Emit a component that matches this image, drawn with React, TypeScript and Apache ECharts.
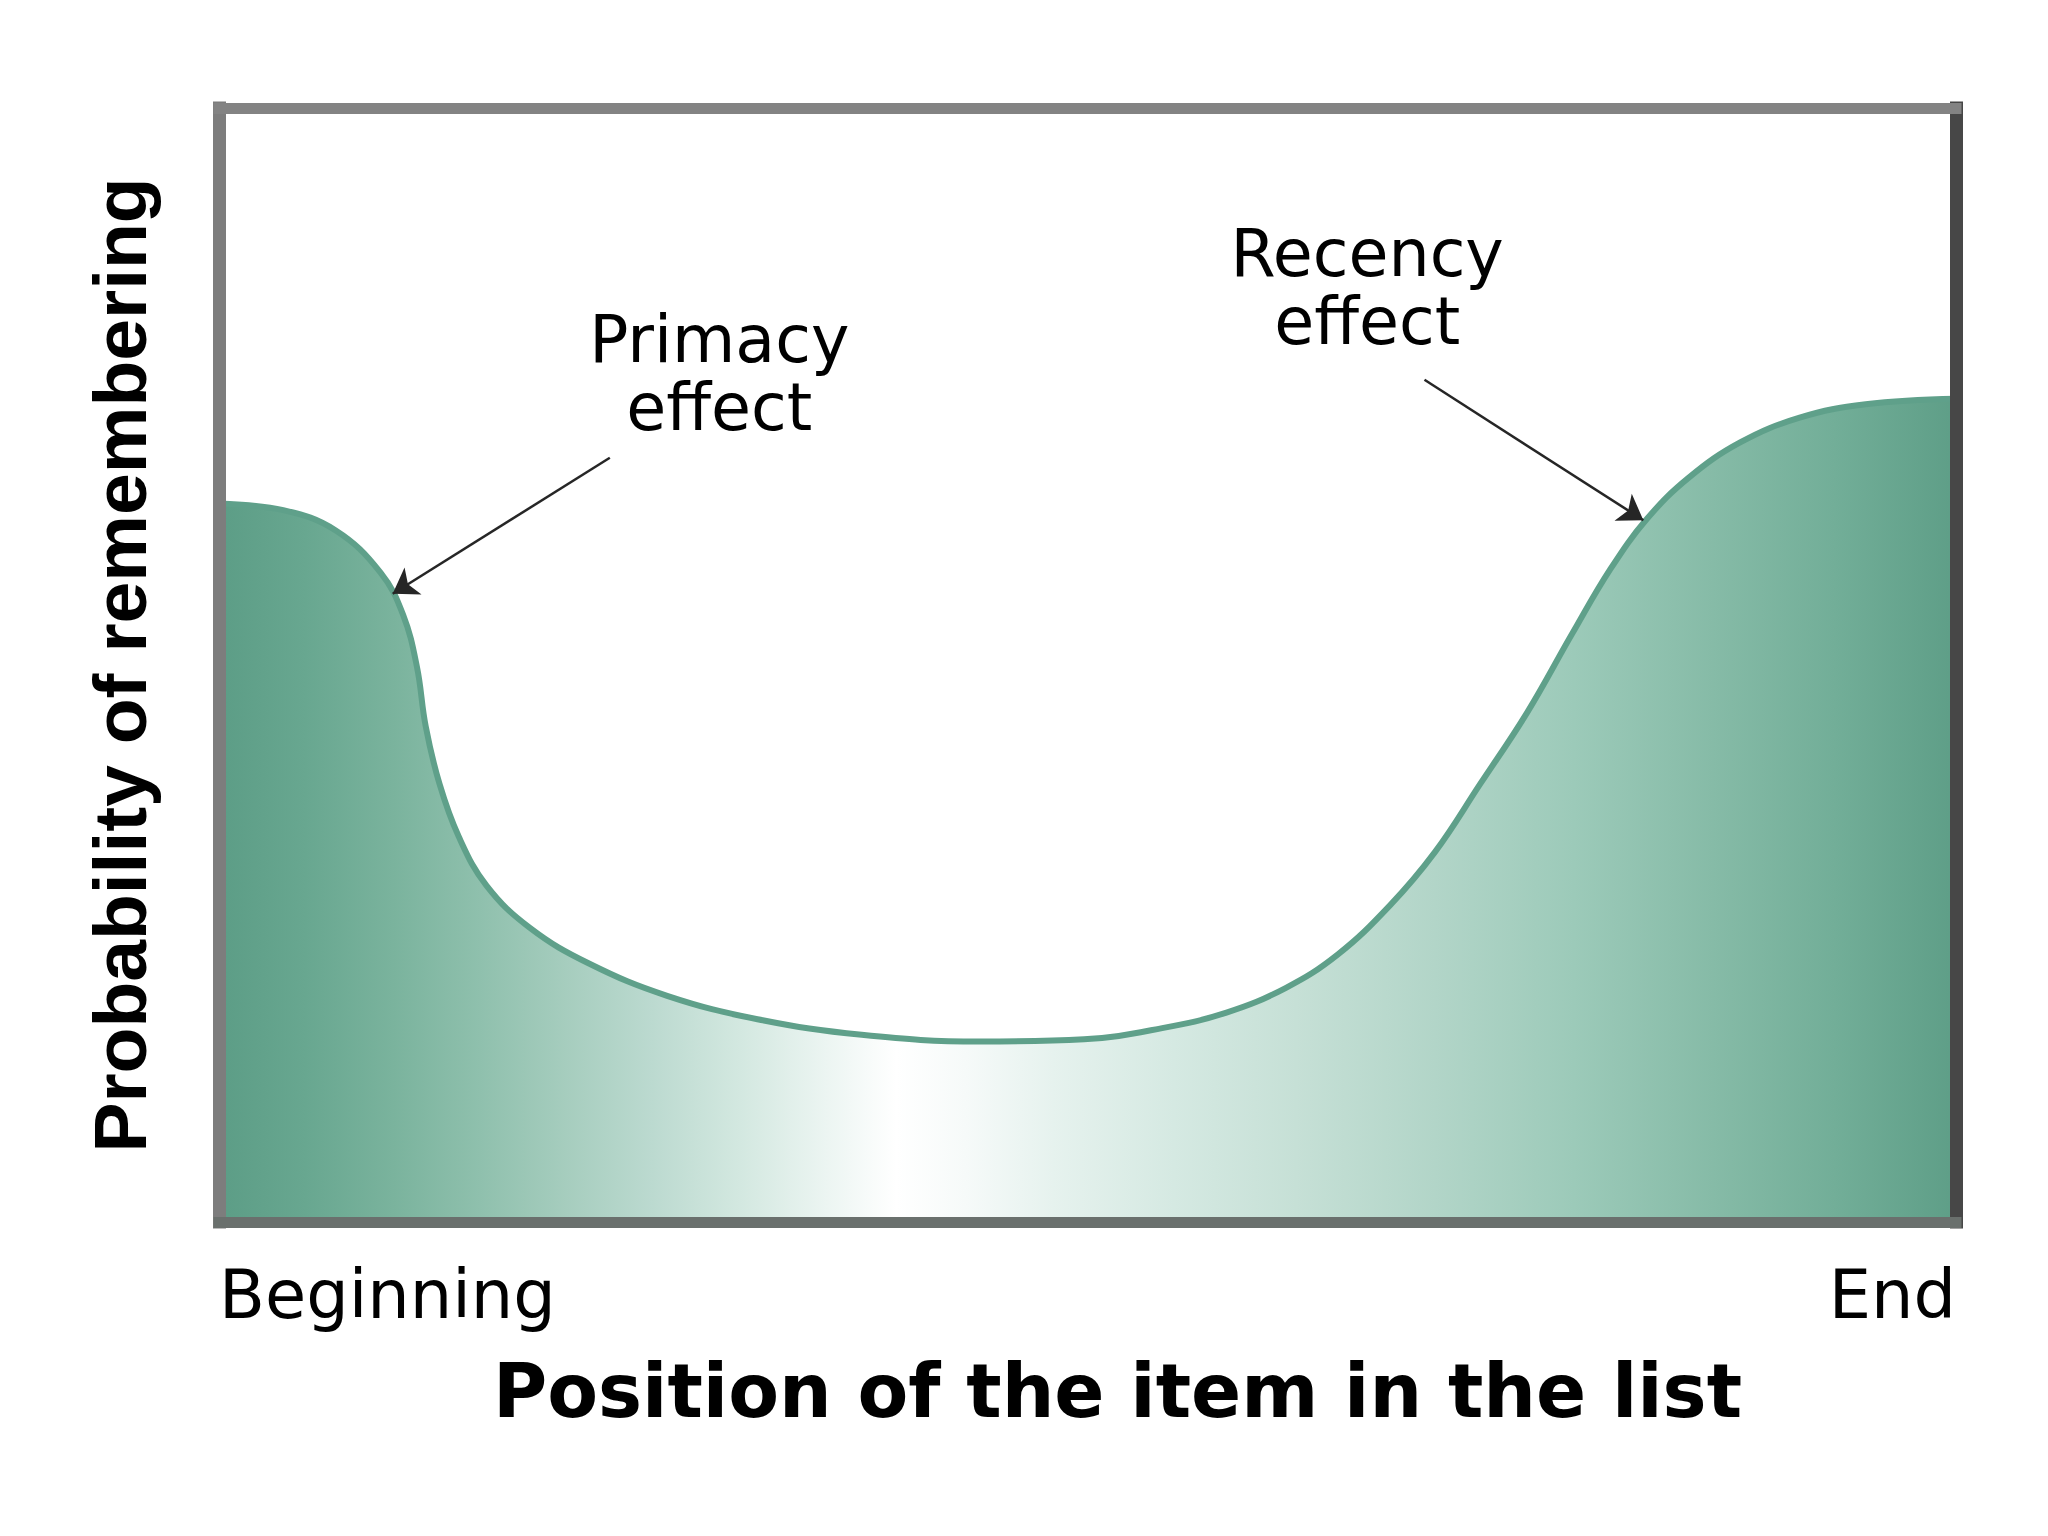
import React, { useEffect, useRef } from "react";
import * as echarts from "echarts";

// Position in the list (0 = beginning, 100 = end)
const positionX = [0, 3.7, 6.7, 9.3, 10.6, 11.4, 11.9, 12.7, 13.8, 15.4, 17.9, 21.3, 25.8, 31.0, 37.0, 43.8, 49.8, 54.3, 58.0, 61.4, 64.4, 67.4, 70.0, 72.6, 75.3, 77.9, 80.1, 82.2, 84.6, 87.6, 91.0, 94.8, 100];
// Probability of remembering (relative, 0..100)
const recallY = [64.5, 63.9, 62.1, 58.3, 54.5, 49.8, 44.5, 39.3, 34.6, 30.2, 26.4, 23.2, 20.3, 18.2, 16.8, 16.2, 16.4, 17.4, 18.8, 21.0, 24.0, 28.4, 33.2, 39.3, 45.7, 52.8, 58.6, 63.1, 66.8, 70.0, 72.2, 73.4, 73.9];

const axisEndLabels = ["Beginning", "End"];
const xTitle = "Position of the item in the list";
const yTitle = "Probability of remembering";

const annotationLines = ["Primacy", "effect", "Recency", "effect"];
const annotationAt = [
  [28.8, 79.2],
  [28.8, 73.1],
  [66.1, 86.9],
  [66.1, 80.8],
];
const arrowFrom = [
  [22.5, 68.6],
  [69.4, 75.6],
];
const arrowTo = [
  [10.0, 56.4],
  [82.0, 63.0],
];

export default function App() {
  const ref = useRef<HTMLDivElement>(null);
  useEffect(() => {
    if (!ref.current) return;
    const chart = echarts.init(ref.current, undefined, { renderer: "svg" });
    const data = positionX.map((x, i) => [x, recallY[i]]);
    const gradient = new echarts.graphic.LinearGradient(0, 0, 1, 0, [
      { offset: 0, color: "#5c9d86" },
      { offset: 0.05, color: "#68a790" },
      { offset: 0.1, color: "#7ab39d" },
      { offset: 0.15, color: "#8fc0ad" },
      { offset: 0.2, color: "#a6cdbe" },
      { offset: 0.25, color: "#bcdad0" },
      { offset: 0.3, color: "#d3e8e0" },
      { offset: 0.35, color: "#ecf5f2" },
      { offset: 0.39, color: "#ffffff" },
      { offset: 0.43, color: "#f6faf9" },
      { offset: 0.48, color: "#e6f2ee" },
      { offset: 0.55, color: "#d5e9e2" },
      { offset: 0.62, color: "#c6e0d6" },
      { offset: 0.7, color: "#b2d5c8" },
      { offset: 0.78, color: "#9ccab9" },
      { offset: 0.86, color: "#86bba7" },
      { offset: 0.93, color: "#72ae98" },
      { offset: 1, color: "#5e9e87" },
    ]);
    const hiddenAxisBits = {
      axisTick: { show: false },
      splitLine: { show: false },
    };
    const frame = (color: string, width: number) => ({
      show: true,
      onZero: false,
      lineStyle: { color, width, cap: "square" },
    });
    chart.setOption({
      animation: false,
      backgroundColor: "#ffffff",
      grid: { left: 219, top: 108, width: 1737, height: 1114 },
      xAxis: [
        {
          type: "value",
          min: 0,
          max: 100,
          interval: 100,
          position: "bottom",
          z: 6,
          axisLine: frame("#6a706d", 11),
          ...hiddenAxisBits,
          axisLabel: {
            show: true,
            margin: 39,
            fontFamily: "DejaVu Sans",
            fontSize: 67,
            color: "#000",
            alignMinLabel: "left",
            alignMaxLabel: "right",
            formatter: (v: number) => (v === 0 ? axisEndLabels[0] : v === 100 ? axisEndLabels[1] : ""),
          },
          name: xTitle,
          nameLocation: "middle",
          nameGap: 132,
          nameTextStyle: {
            fontFamily: "DejaVu Sans",
            fontWeight: "bold",
            fontSize: 74,
            color: "#000",
            padding: [0, 0, 0, 60],
          },
        },
        {
          type: "value",
          min: 0,
          max: 100,
          position: "top",
          z: 6,
          axisLine: frame("#838383", 11),
          ...hiddenAxisBits,
          axisLabel: { show: false },
        },
      ],
      yAxis: [
        {
          type: "value",
          min: 0,
          max: 100,
          position: "left",
          z: 6,
          axisLine: frame("#7d7d7d", 13),
          ...hiddenAxisBits,
          axisLabel: { show: false },
          name: yTitle,
          nameLocation: "middle",
          nameRotate: 90,
          nameGap: 62,
          nameTextStyle: {
            fontFamily: "Liberation Sans",
            fontWeight: "bold",
            fontSize: 75,
            color: "#000",
          },
        },
        {
          type: "value",
          min: 0,
          max: 100,
          position: "right",
          z: 6,
          axisLine: frame("#474747", 13),
          ...hiddenAxisBits,
          axisLabel: { show: false },
        },
      ],
      series: [
        {
          type: "line",
          data,
          xAxisIndex: 0,
          yAxisIndex: 0,
          smooth: 0.4,
          showSymbol: false,
          symbol: "none",
          lineStyle: { color: "#5fa08a", width: 6 },
          areaStyle: { color: gradient, opacity: 1 },
          markLine: {
            silent: true,
            symbol: ["none", "arrow"],
            symbolSize: 24,
            label: { show: false },
            lineStyle: { color: "#262626", width: 2.5, type: "solid" },
            data: arrowFrom.map((f, i) => [{ coord: f }, { coord: arrowTo[i] }]),
          },
          markPoint: {
            silent: true,
            symbol: "circle",
            symbolSize: 0,
            label: {
              show: true,
              position: "inside",
              formatter: "{b}",
              fontFamily: "DejaVu Sans",
              fontSize: 65,
              color: "#000",
              align: "center",
            },
            data: annotationLines.map((n, i) => ({ name: n, coord: annotationAt[i] })),
          },
        },
      ],
    });
    return () => chart.dispose();
  }, []);
  return (
    <div
      ref={ref}
      style={{ position: "absolute", left: 0, top: 0, width: 2048, height: 1536, background: "#fff" }}
    />
  );
}
